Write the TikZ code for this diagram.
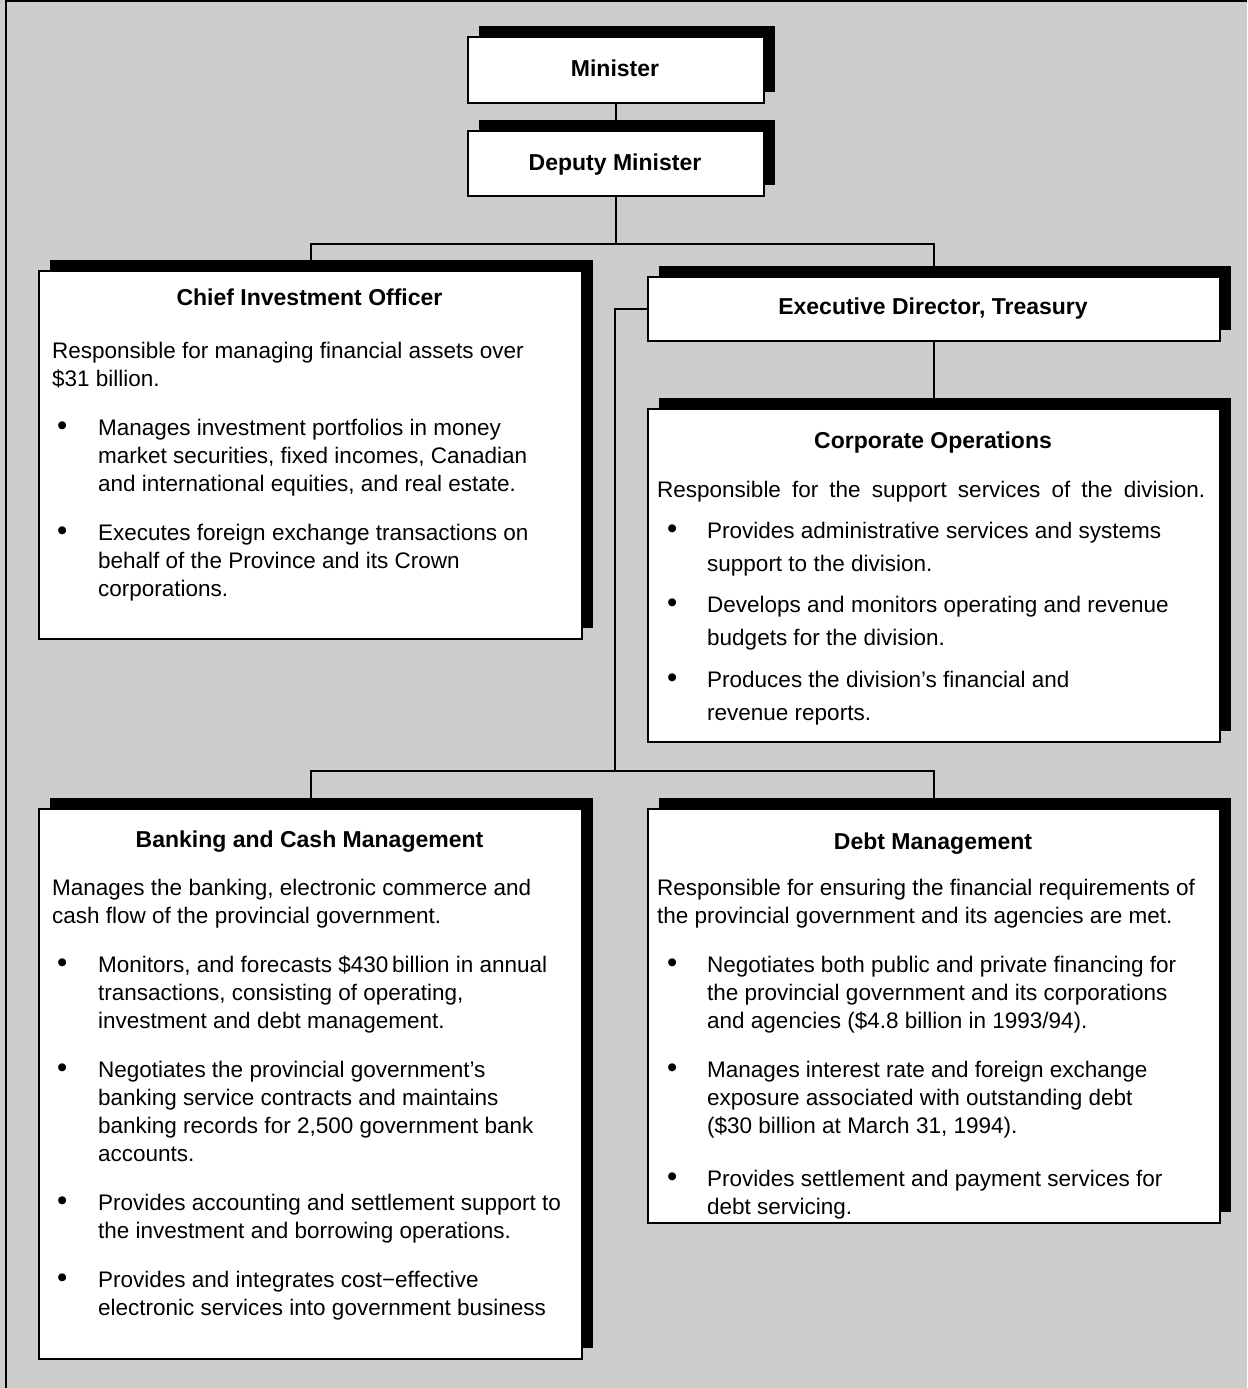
\documentclass[tikz,border=0pt]{standalone}
\usepackage{fontspec}
\setmainfont{Liberation Sans}
\usetikzlibrary{shadows}
\definecolor{paper}{RGB}{204,204,204}
\pgfdeclarelayer{paper}
\pgfdeclarelayer{wires}
\pgfsetlayers{paper,wires,main}
\newlength{\bulind}
\newlength{\bulpos}
% bullet item line and its continuation lines
\newcommand{\bitem}[1]{\makebox[\bulind][l]{\hspace*{\bulpos}\raisebox{-0.6pt}{\scalebox{1.3}{\textbullet}}}#1}
\newcommand{\cont}[1]{\hspace*{\bulind}#1}
% a body text block whose reference point is the first baseline
\newenvironment{bodylines}{\begin{tabular}[t]{@{}l@{}}}{\end{tabular}}
\tikzset{
  orgbox/.style={draw=black, line width=2pt, fill=white, inner sep=0pt,
    anchor=north west,
    general shadow={fill=black, shadow xshift=11pt, shadow yshift=11pt}},
  boxtitle/.style={font=\fontsize{23}{28}\selectfont\bfseries, inner sep=0pt, anchor=base},
  boxbody/.style={font=\fontsize{22.5}{28}\selectfont, inner sep=0pt, anchor=base west},
  wire/.style={line width=2pt, line cap=rect}
}
\begin{document}
\begin{tikzpicture}[x=1pt,y=-1pt]
\useasboundingbox (0,0) rectangle (1247,1388);
\begin{pgfonlayer}{paper}
  \fill[paper] (0,0) rectangle (1247,1388);
  \draw[line width=2.5pt] (6,1388) -- (6,1.2) -- (1247,1.2);
\end{pgfonlayer}

% boxes
\node[orgbox, minimum width=296pt, minimum height=66pt] (min)  at (467,36)  {};
\node[orgbox, minimum width=296pt, minimum height=65pt] (dep)  at (467,130) {};
\node[orgbox, minimum width=543pt, minimum height=368pt] (cio) at (38,270)  {};
\node[orgbox, minimum width=572pt, minimum height=64pt] (exec) at (647,276) {};
\node[orgbox, minimum width=572pt, minimum height=333pt] (corp) at (647,408) {};
\node[orgbox, minimum width=543pt, minimum height=550pt] (bank) at (38,808)  {};
\node[orgbox, minimum width=572pt, minimum height=414pt] (debt) at (647,808) {};

% titles
\node[boxtitle] (tmin)  at (615,77)    {Minister};
\node[boxtitle] (tdep)  at (615,171)   {Deputy Minister};
\node[boxtitle] (tcio)  at (309.5,305) {Chief Investment Officer};
\node[boxtitle] (texec) at (933,314)   {Executive Director, Treasury};
\node[boxtitle] (tcorp) at (933,448)   {Corporate Operations};
\node[boxtitle] (tbank) at (309.5,847) {Banking and Cash Management};
\node[boxtitle] (tdebt) at (933,849)   {Debt Management};

% body texts
\setlength{\bulind}{46pt}\setlength{\bulpos}{5pt}
\node[boxbody] (bcio) at (52,358) {\begin{bodylines}
Responsible for managing financial assets over\\
\$31 billion.\\[21pt]
\bitem{Manages investment portfolios in money}\\
\cont{market securities, fixed incomes, Canadian}\\
\cont{and international equities, and real estate.}\\[21pt]
\bitem{Executes foreign exchange transactions on}\\
\cont{behalf of the Province and its Crown}\\
\cont{corporations.}
\end{bodylines}};

\node[boxbody] (bbank) at (52,895) {\begin{bodylines}
Manages the banking, electronic commerce and\\
cash flow of the provincial government.\\[21pt]
\bitem{Monitors, and forecasts \$430\,billion in annual}\\
\cont{transactions, consisting of operating,}\\
\cont{investment and debt management.}\\[21pt]
\bitem{Negotiates the provincial government’s}\\
\cont{banking service contracts and maintains}\\
\cont{banking records for 2,500 government bank}\\
\cont{accounts.}\\[21pt]
\bitem{Provides accounting and settlement support to}\\
\cont{the investment and borrowing operations.}\\[21pt]
\bitem{Provides and integrates cost−effective}\\
\cont{electronic services into government business}
\end{bodylines}};

\setlength{\bulind}{50pt}\setlength{\bulpos}{10pt}
\node[boxbody, font=\fontsize{22.5}{33}\selectfont] (bcorp) at (657,497) {\begin{bodylines}
\makebox[548pt][s]{Responsible for the support services of the division.}\\[8pt]
\bitem{Provides administrative services and systems}\\
\cont{support to the division.}\\[8pt]
\bitem{Develops and monitors operating and revenue}\\
\cont{budgets for the division.}\\[9pt]
\bitem{Produces the division’s financial and}\\
\cont{revenue reports.}
\end{bodylines}};

\node[boxbody] (bdebt) at (657,895) {\begin{bodylines}
Responsible for ensuring the financial requirements of\\
the provincial government and its agencies are met.\\[21pt]
\bitem{Negotiates both public and private financing for}\\
\cont{the provincial government and its corporations}\\
\cont{and agencies (\$4.8 billion in 1993/94).}\\[21pt]
\bitem{Manages interest rate and foreign exchange}\\
\cont{exposure associated with outstanding debt}\\
\cont{(\$30 billion at March 31, 1994).}\\[25pt]
\bitem{Provides settlement and payment services for}\\
\cont{debt servicing.}
\end{bodylines}};

% connectors
\coordinate (lowbus) at (615,771);
\begin{pgfonlayer}{wires}
  \draw[wire] (min.south) -- (dep.north);
  \draw[wire] (dep.south) -- ++(0,47) coordinate (topbus);
  \draw[wire] (cio.north |- topbus) -- (exec.north |- topbus);
  \draw[wire] (cio.north |- topbus) -- (cio.north);
  \draw[wire] (exec.north |- topbus) -- (exec.north);
  \draw[wire] (exec.south) -- (corp.north);
  \draw[wire] (exec.west) -| (lowbus);
  \draw[wire] (bank.north |- lowbus) -- (debt.north |- lowbus);
  \draw[wire] (bank.north |- lowbus) -- (bank.north);
  \draw[wire] (debt.north |- lowbus) -- (debt.north);
\end{pgfonlayer}
\end{tikzpicture}
\end{document}
